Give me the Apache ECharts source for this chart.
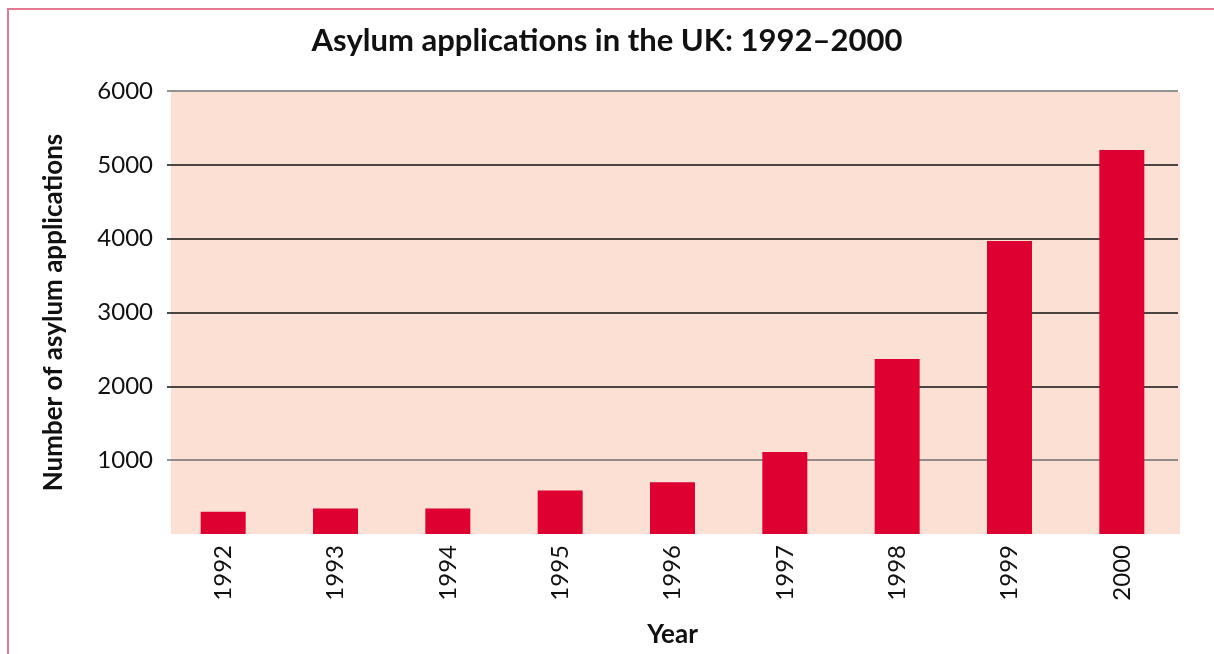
<!DOCTYPE html>
<html>
<head>
<meta charset="utf-8">
<title>Asylum applications in the UK: 1992–2000</title>
<script src="https://cdn.jsdelivr.net/npm/echarts@6/dist/echarts.min.js"></script>
<style>
  html, body { margin: 0; padding: 0; background: #ffffff; }
  #chart { width: 1214px; height: 654px; }
</style>
</head>
<body>
<div id="chart"></div>
<script>
// Years on the category axis
const years = ['1992', '1993', '1994', '1995', '1996', '1997', '1998', '1999', '2000'];
// Number of asylum applications per year
const applications = [300, 345, 345, 590, 700, 1110, 2370, 3970, 5200];
// Value axis range and step
const yMin = 0;
const yMax = 6000;
const yStep = 1000;

const FONT = 'Lato, "Open Sans", sans-serif';

// Plot frame (pixels)
const GRID = { left: 167, right: 36, top: 91, bottom: 120 };

const chart = echarts.init(document.getElementById('chart'), null, { renderer: 'canvas' });

chart.setOption({
  animation: false,
  backgroundColor: '#ffffff',
  title: {
    text: 'Asylum applications in the UK: 1992–2000',
    left: 'center',
    top: 20,
    textStyle: {
      fontFamily: FONT,
      fontWeight: 'bold',
      fontSize: 31,
      color: '#111111'
    }
  },
  graphic: [
    // page frame
    {
      type: 'rect',
      silent: true,
      z: 100,
      shape: { x: 8, y: 9, width: 1230, height: 700 },
      style: { fill: 'none', stroke: '#E57A91', lineWidth: 2 }
    },
    // shaded plot background, set slightly right of the gridlines' start
    {
      type: 'rect',
      silent: true,
      z: -10,
      shape: { x: GRID.left + 4, y: GRID.top + 1, width: 1214 - GRID.right - GRID.left - 2, height: 654 - GRID.bottom - GRID.top - 1 },
      style: { fill: '#FCE0D4' }
    }
  ],
  grid: {
    left: GRID.left,
    right: GRID.right,
    top: GRID.top,
    bottom: GRID.bottom,
    outerBoundsMode: 'none',
    containLabel: false,
    show: false
  },
  xAxis: {
    type: 'category',
    data: years,
    name: 'Year',
    nameLocation: 'middle',
    nameGap: 88,
    nameTextStyle: {
      fontFamily: FONT,
      fontWeight: 'bold',
      fontSize: 26,
      color: '#111111'
    },
    axisLine: { show: false },
    axisTick: { show: false },
    axisLabel: {
      rotate: 90,
      margin: 11,
      fontFamily: FONT,
      fontSize: 24,
      color: '#111111'
    }
  },
  yAxis: {
    type: 'value',
    min: yMin,
    max: yMax,
    interval: yStep,
    name: 'Number of asylum applications',
    nameLocation: 'middle',
    nameGap: 100,
    nameRotate: 90,
    nameTextStyle: {
      fontFamily: FONT,
      fontWeight: 'bold',
      fontSize: 26,
      color: '#111111'
    },
    axisLine: { show: false },
    axisTick: { show: false },
    axisLabel: {
      margin: 14,
      fontFamily: FONT,
      fontSize: 24,
      color: '#111111',
      formatter: function (v) { return v === 0 ? '' : String(v); }
    },
    splitLine: {
      show: true,
      lineStyle: {
        color: ['rgba(0,0,0,0)', '#6e6e6e', '#111111', '#111111', '#111111', '#111111', '#6e6e6e'],
        width: 1.5
      }
    }
  },
  series: [
    {
      type: 'bar',
      data: applications,
      barWidth: 45,
      itemStyle: { color: '#DE0030' }
    }
  ]
});
</script>
</body>
</html>
